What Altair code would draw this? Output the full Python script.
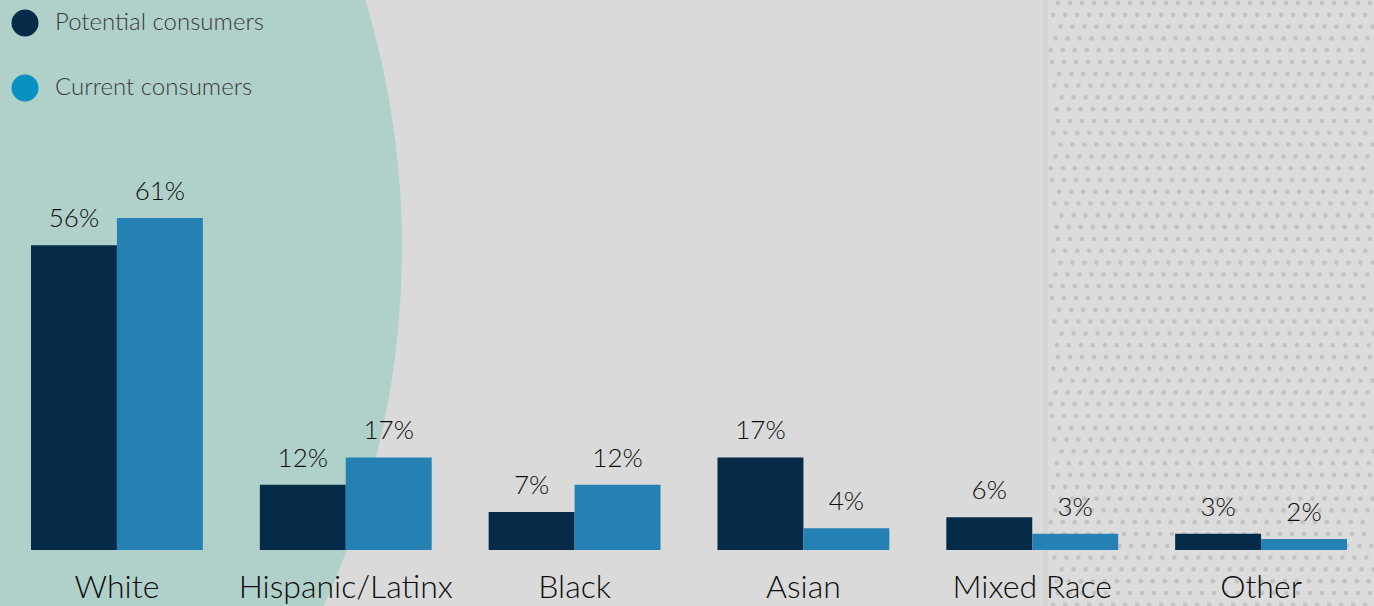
import altair as alt
import pandas as pd

# ---- data ----
categories = ["White", "Hispanic/Latinx", "Black", "Asian", "Mixed Race", "Other"]
series = ["Potential consumers", "Current consumers"]
potential = [56, 12, 7, 17, 6, 3]
current = [61, 17, 12, 4, 3, 2]
bar_colors = ["#062b48", "#2580b3"]
legend_colors = ["#062b48", "#0790c0"]

rows = []
for c, p, q in zip(categories, potential, current):
    rows.append({"category": c, "series": series[0], "value": p, "label": f"{p}%"})
    rows.append({"category": c, "series": series[1], "value": q, "label": f"{q}%"})
df = pd.DataFrame(rows)
cat_df = pd.DataFrame({"category": categories})
leg_df = pd.DataFrame({"series": series, "color": legend_colors})

W, H = 1374, 606
FONT = "Lato"

xscale = alt.Scale(domain=categories, range=[31, 1347], paddingInner=0.249, paddingOuter=0)
yscale = alt.Scale(domain=[-10.29, 101.05])
X = alt.X("category:N", sort=categories, scale=xscale, axis=None)
XO = alt.XOffset("series:N", sort=series, scale=alt.Scale(domain=series, paddingInner=0, paddingOuter=0))
Y = alt.Y("value:Q", scale=yscale, axis=None)

one = pd.DataFrame({"k": [0]})

# background decorations
circle_bg = alt.Chart(one).mark_circle(size=(2 * 857) ** 2, color="#b0d1ca", opacity=1).encode(
    x=alt.value(-455), y=alt.value(248)
)
pattern_bg = alt.Chart(one).mark_rect(color="#dcdcdc").encode(
    x=alt.value(1043), x2=alt.value(W), y=alt.value(0), y2=alt.value(H)
)
stripe = alt.Chart(one).mark_rect(color="#d4d4d4").encode(
    x=alt.value(1043), x2=alt.value(1048), y=alt.value(0), y2=alt.value(H)
)
# dotted texture generated in Vega-Lite
dots = (
    alt.Chart(alt.sequence(0, 52, 1, as_="row"))
    .transform_calculate(cols="sequence(0, 30)")
    .transform_flatten(["cols"])
    .transform_calculate(
        px="1046 + datum.cols * 12 + (datum.row % 2) * 6 + (datum.row % 5) * 1.2",
        py="3 + datum.row * 11.8",
    )
    .transform_filter("datum.px < 1374 && datum.px > 1050")
    .mark_circle(size=22, color="#c3c3c3", opacity=1)
    .encode(x=alt.X("px:Q", scale=None), y=alt.Y("py:Q", scale=None))
)

bars = alt.Chart(df).mark_bar().encode(
    x=X,
    xOffset=XO,
    y=Y,
    y2=alt.datum(0),
    color=alt.Color("series:N", scale=alt.Scale(domain=series, range=bar_colors), legend=None),
)

values = alt.Chart(df).mark_text(
    font=FONT, fontSize=26, color="#0d0d0d", baseline="alphabetic", dy=-18, fontWeight=300
).encode(x=X, xOffset=XO, y=Y, text="label:N")

cat_labels = alt.Chart(cat_df).mark_text(
    font=FONT, fontSize=32, color="#0d0d0d", baseline="alphabetic", fontWeight=300
).encode(x=X, y=alt.value(598), text="category:N")

leg_y = alt.Y("series:N", sort=series, scale=alt.Scale(type="point", domain=series, range=[23, 88], padding=0), axis=None)
leg_dots = alt.Chart(leg_df).mark_circle(size=729, opacity=1).encode(
    x=alt.value(25), y=leg_y,
    color=alt.Color("color:N", scale=None),
)
leg_text = alt.Chart(leg_df).mark_text(
    font=FONT, fontSize=24, color="#3a3a3a", align="left", baseline="middle", fontWeight=300
).encode(x=alt.value(55), y=leg_y, text="series:N")

chart = (
    alt.layer(circle_bg, pattern_bg, stripe, dots, bars, values, cat_labels, leg_dots, leg_text)
    .resolve_scale(y="independent", color="independent")
    .properties(width=W, height=H, padding=0, autosize=alt.AutoSizeParams(type="none"), background="#dadada")
    .configure_view(stroke=None, fill="#dadada")
)

chart.save("out.html", embed_options={"renderer": "svg", "actions": False})
